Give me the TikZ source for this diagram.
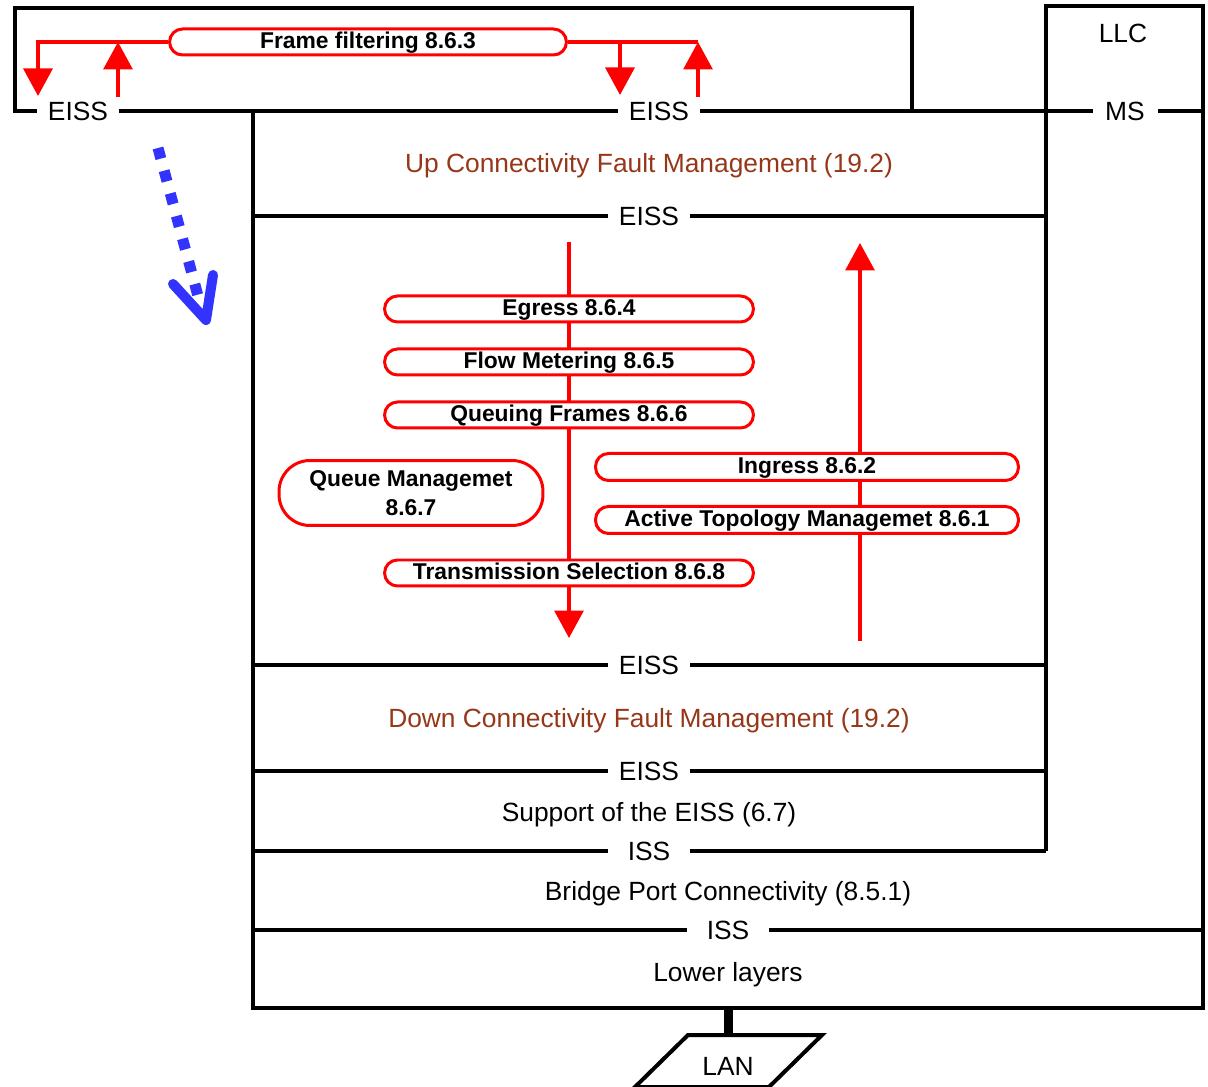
\documentclass[tikz,border=0pt]{standalone}
\usepackage{fontspec}
\setmainfont{Liberation Sans}
\usetikzlibrary{arrows.meta}
\definecolor{cfmbrown}{RGB}{150,55,25}
\definecolor{flowblue}{RGB}{51,51,255}

\begin{document}
\begin{tikzpicture}[x=0.02cm,y=-0.02cm,
  frame/.style={line width=0.08cm, black, line join=miter},
  iface/.style={fill=white, inner xsep=0pt, inner ysep=0.04cm, minimum width=1.64cm,
    font=\fontsize{15}{18}\selectfont},
  layertxt/.style={font=\fontsize{15}{18}\selectfont},
  cfmtxt/.style={layertxt, text=cfmbrown},
  fnbox/.style={draw=red, line width=0.06cm, fill=white, rounded corners=0.26cm,
    minimum width=7.38cm, minimum height=0.52cm, inner sep=0pt,
    text height=9.5pt, text depth=2.5pt,
    font=\bfseries\fontsize{13}{16}\selectfont},
  redline/.style={red, line width=0.065cm},
  flow/.style={redline, -{Triangle[width=0.58cm,length=0.55cm]}},
]
\useasboundingbox (0,0) rectangle (1208,1087);

% ---- protocol stack frame ----
\draw[frame] (912,111) -- (912,8) -- (15,8) -- (15,111) -- (1203,111);
\draw[frame] (1046,851) -- (1046,6) -- (1203,6) -- (1203,1008) -- (253,1008) -- (253,111);
\draw[frame] (253,216) -- (1046,216);
\draw[frame] (253,665) -- (1046,665);
\draw[frame] (253,771) -- (1046,771);
\draw[frame] (253,851) -- (1046,851);
\draw[frame] (253,930) -- (1203,930);

% ---- service interface labels ----
\node[iface] (eissL) at (78,111) {EISS};
\node[iface] (eissR) at (659,111) {EISS};
\node[iface, minimum width=1.3cm] (ms) at (1125,111) {MS};
\node[layertxt] (llc) at (1123,33) {LLC};
\node[iface] (eissA) at (649,216) {EISS};
\node[iface] (eissB) at (649,665) {EISS};
\node[iface] (eissC) at (649,771) {EISS};
\node[iface] (issA) at (649,851) {ISS};
\node[iface] (issB) at (728,930) {ISS};

% ---- layer names ----
\node[cfmtxt] (upcfm) at (649,166) {Up Connectivity Fault Management (19.2)};
\node[cfmtxt] (downcfm) at (649,721) {Down Connectivity Fault Management (19.2)};
\node[layertxt] (support) at (649,815) {Support of the EISS (6.7)};
\node[layertxt] (bpc) at (728,894) {Bridge Port Connectivity (8.5.1)};
\node[layertxt] (lower) at (728,975) {Lower layers};

% ---- LAN ----
\coordinate (lanstub) at (728,1008);
\draw[line width=0.08cm, line join=miter] (688,1035) -- (822,1035) -- (769,1087) -- (635,1087) -- cycle;
\node[layertxt] (lan) at (728,1066) {LAN};
\draw[line width=0.18cm] (lanstub) -- (728,1035);

% ---- frame filtering ----
\node[fnbox, minimum width=7.94cm] (ff) at (368,42) {Frame filtering 8.6.3};
\coordinate (ffdl) at (38,96);
\coordinate (ffub) at (118,97);
\coordinate (ffdr) at (620,95);
\coordinate (ffur) at (698,97);
\draw[flow] (ff.west) -| (ffdl);
\draw[flow] (ffub) -- (ffub |- ff.west);
\draw[redline] (ff.east) -- (ffur |- ff.east);
\draw[flow] (ffdr |- ff.east) -- (ffdr);
\draw[flow] (ffur) -- (ffur |- ff.east);

% ---- transmit and receive paths ----
\coordinate (dtop) at (569,242);
\coordinate (dtip) at (569,638);
\coordinate (ubot) at (860,641);
\coordinate (utip) at (860,243);
\draw[flow] (dtop) -- (dtip);
\draw[flow] (ubot) -- (utip);

\node[fnbox] (eg) at (569,309) {Egress 8.6.4};
\node[fnbox] (fm) at (569,362) {Flow Metering 8.6.5};
\node[fnbox] (qf) at (569,415) {Queuing Frames 8.6.6};
\node[fnbox] (ts) at (569,573) {Transmission Selection 8.6.8};
\node[fnbox, minimum width=5.28cm, minimum height=1.3cm, rounded corners=0.62cm,
  text height=, text depth=, align=center,
  font=\bfseries\fontsize{13}{16.5}\selectfont] (qm) at (411,493) {Queue Managemet\\8.6.7};
\node[fnbox, minimum width=8.46cm, minimum height=0.54cm] (ing) at (807,467) {Ingress 8.6.2};
\node[fnbox, minimum width=8.46cm, minimum height=0.54cm] (atm) at (807,520) {Active Topology Managemet 8.6.1};

% ---- frame direction marker ----
\coordinate (bstart) at (158,148);
\coordinate (bend) at (198,296);
\coordinate (bhl) at (173,284);
\coordinate (btip) at (206,320);
\coordinate (bhr) at (213,275);
\draw[flowblue, line width=0.22cm, dash pattern=on 0.22cm off 0.25cm] (bstart) -- (bend);
\draw[flowblue, line width=0.2cm, line cap=round, line join=round] (bhl) -- (btip) -- (bhr);
\end{tikzpicture}
\end{document}
